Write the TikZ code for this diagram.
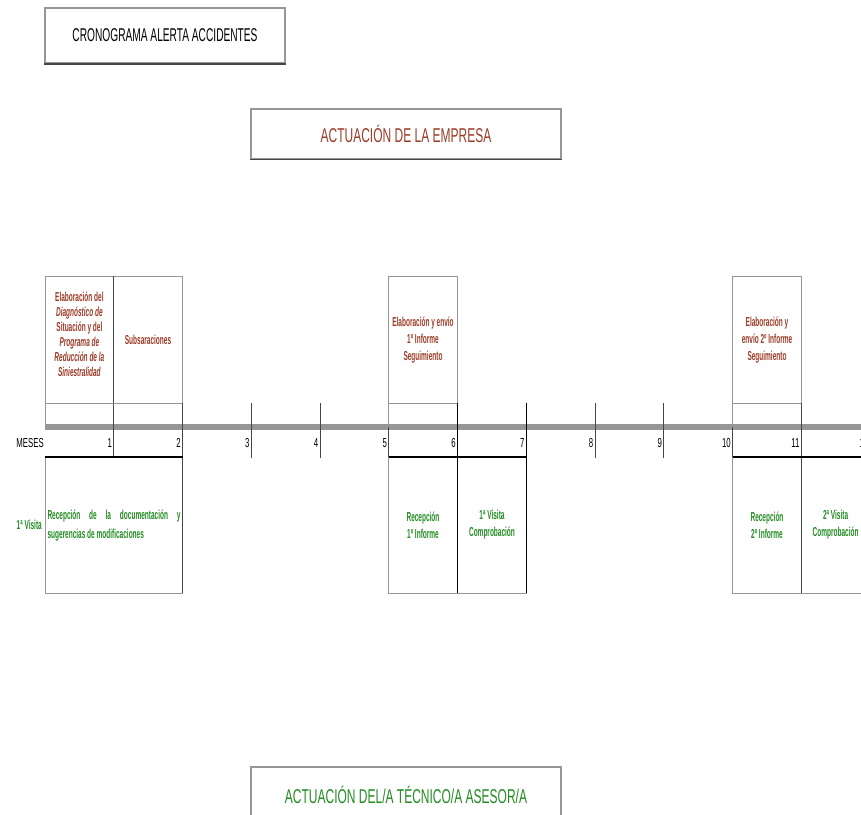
\documentclass[tikz,border=0pt]{standalone}
\usepackage{fontspec}
\newfontfamily\nar[FakeStretch=0.6]{Liberation Sans}
\newfontfamily\nart[FakeStretch=0.55]{Liberation Sans}
\newfontfamily\narb[FakeStretch=0.5]{Liberation Sans}
\definecolor{brn}{RGB}{155,60,40}
\definecolor{grn}{RGB}{35,140,35}
\definecolor{lgray}{RGB}{150,150,150}
\definecolor{dgray}{RGB}{70,70,70}
\tikzset{
  hbox/.style={draw=lgray, line width=1.2pt, fill=white, inner sep=0pt},
  cell/.style={draw=lgray, line width=1pt},
  dline/.style={draw=dgray, line width=1pt},
  kline/.style={draw=black, line width=1.2pt},
  tick/.style={draw=dgray, line width=0.8pt},
  etxt/.style={text=brn, font=\narb\bfseries\fontsize{13}{15}\selectfont, align=center, inner sep=0pt},
  ttxt/.style={text=grn, font=\narb\bfseries\fontsize{13}{17}\selectfont, align=center, inner sep=0pt},
  num/.style={font=\nar\fontsize{13}{15}\selectfont, anchor=east, inner sep=0pt}
}
\begin{document}
\begin{tikzpicture}[x=1pt,y=-1pt]
\clip (0,0) rectangle (861,814);
\fill[white] (0,0) rectangle (861,814);
% heading boxes
\node[hbox, minimum width=240pt, minimum height=55pt, font=\nart\fontsize{18.5}{20}\selectfont] (title) at (165,35.5) {CRONOGRAMA ALERTA ACCIDENTES};
\draw[line width=2pt, dgray] (title.south west) -- (title.south east);
\node[hbox, minimum width=310pt, minimum height=50pt, text=brn, font=\nar\fontsize{20}{22}\selectfont] (emp) at (406,134) {ACTUACIÓN DE LA EMPRESA};
\draw[line width=1.6pt, dgray] (emp.south west) -- (emp.south east);
\node[hbox, minimum width=310pt, minimum height=60pt, text=grn, font=\nar\fontsize{20}{22}\selectfont] (tec) at (406,797) {};
\node[text=grn, font=\nar\fontsize{20}{22}\selectfont, inner sep=0pt] (tectxt) at (406,795) {ACTUACIÓN DEL/A TÉCNICO/A ASESOR/A};
% timeline
\draw[line width=6pt, color=lgray] (45,427) -- (875,427);
% ticks and numbers
\foreach \i in {1,...,12}{
  \pgfmathsetmacro{\xx}{45+68.75*\i}
  \draw[tick] (\xx,403) -- (\xx,458);
  \node[num] (n\i) at (\xx-1.5,443) {\i};
}
\node[num] (meses) at (44,443) {MESES};
% upper boxes
\draw[cell] (45,276) rectangle (182.5,426);
\draw[dline] (113.75,276) -- (113.75,458);
\draw[cell] (45,403) -- (182.5,403);
\draw[cell] (388.75,276) rectangle (457.5,426);
\draw[cell] (388.75,403) -- (457.5,403);
\draw[cell] (732.5,276) rectangle (801.25,426);
\draw[cell] (732.5,403) -- (801.25,403);
% lower boxes
\draw[cell] (45,457) rectangle (182.5,593);
\draw[dline] (182.5,403) -- (182.5,593);
\draw[kline] (45,457) -- (182.5,457);
\draw[cell] (388.75,457) rectangle (526.25,593);
\draw[kline] (457.5,403) -- (457.5,593);
\draw[kline] (526.25,403) -- (526.25,593);
\draw[kline] (388.75,457) -- (526.25,457);
\draw[cell] (732.5,457) rectangle (870,593);
\draw[dline] (801.25,403) -- (801.25,593);
\draw[kline] (732.5,457) -- (870,457);
% upper texts
\node[etxt] (a1) at (79.4,334.5) {Elaboración del\\\itshape Diagnóstico de\\Situación y del\\\itshape Programa de\\\itshape Reducción de la\\\itshape Siniestralidad};
\node[etxt] (a2) at (148,340) {Subsaraciones};
\node[etxt, font=\narb\bfseries\fontsize{13}{17}\selectfont] (a6) at (423,340) {Elaboración y envío\\1º Informe\\Seguimiento};
\node[etxt, font=\narb\bfseries\fontsize{13}{17}\selectfont] (a11) at (767,340) {Elaboración y\\envío 2º Informe\\Seguimiento};
% lower texts
\node[ttxt, anchor=east] (v1) at (42,525) {1ª Visita};
\node[ttxt, text width=133pt, align=justify, font=\narb\bfseries\fontsize{13}{19}\selectfont] (r1) at (114,526) {Recepción de la documentación y\linebreak sugerencias de modificaciones};
\node[ttxt] (r6) at (423,525) {Recepción\\1º Informe};
\node[ttxt] (c7) at (492,525) {1ª Visita\\Comprobación};
\node[ttxt] (r11) at (767,525) {Recepción\\2º Informe};
\node[ttxt] (c12) at (835.6,525) {2ª Visita\\Comprobación};
\end{tikzpicture}
\end{document}
